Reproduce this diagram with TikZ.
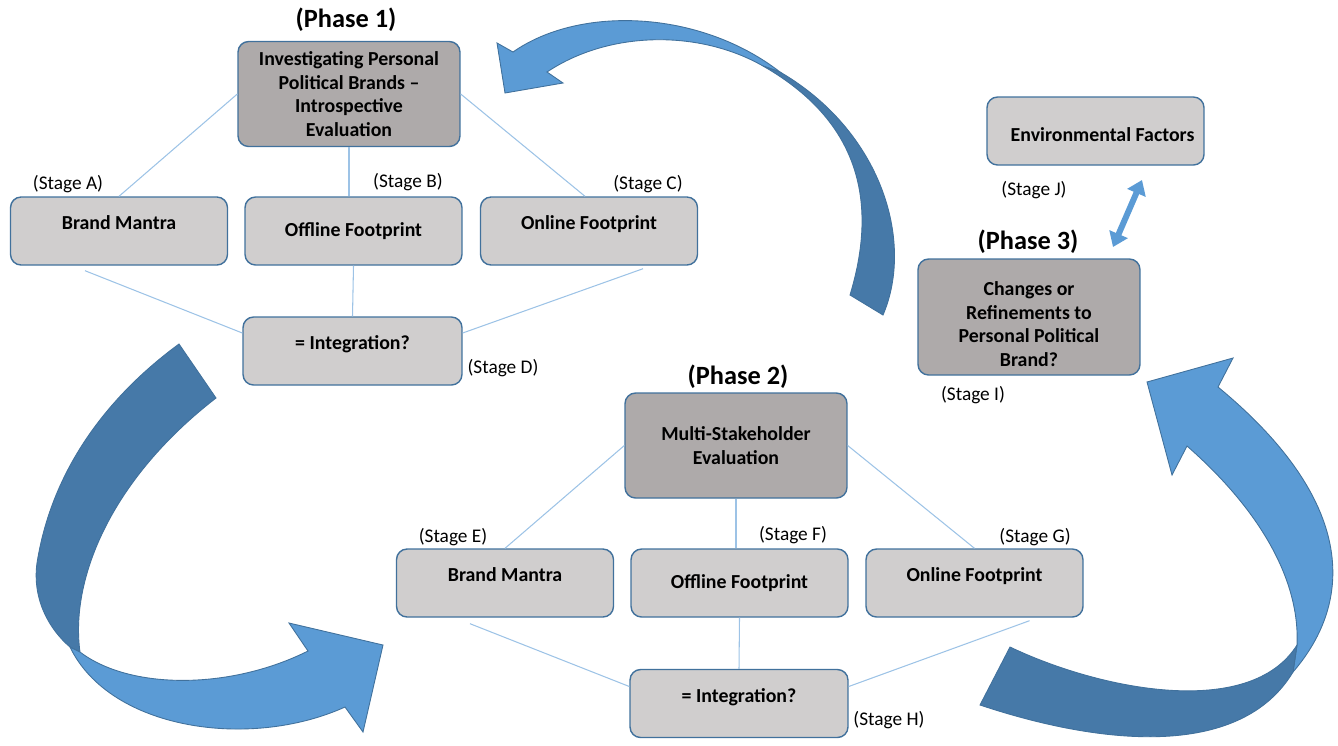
\documentclass[tikz,border=0pt]{standalone}
\usepackage{fontspec}
\setmainfont{Carlito}
\usetikzlibrary{calc,arrows.meta}
\definecolor{boxgray}{RGB}{208,206,206}
\definecolor{phasegray}{RGB}{174,170,170}
\definecolor{boxline}{RGB}{65,113,156}
\definecolor{linkblue}{RGB}{157,195,230}
\definecolor{arrowlight}{RGB}{91,155,213}
\definecolor{arrowdark}{RGB}{70,121,168}
\tikzset{
  stagebox/.style={draw=boxline, line width=0.8pt, fill=boxgray, rounded corners=6pt,
    minimum width=4.34cm, minimum height=1.36cm, align=center, inner sep=2pt,
    font=\fontsize{11.3}{13.4}\selectfont\bfseries},
  phasebox/.style={stagebox, fill=phasegray, minimum width=4.44cm, minimum height=2.1cm},
  linkline/.style={draw=linkblue, line width=0.6pt},
  stagelabel/.style={font=\fontsize{11}{13}\selectfont, inner sep=0pt},
  phaselabel/.style={font=\fontsize{15}{18}\selectfont\bfseries, inner sep=0pt},
  lightpart/.style={fill=arrowlight, draw=boxline, line width=0.5pt},
  darkpart/.style={fill=arrowdark, draw=boxline, line width=0.5pt}
}
\begin{document}
\begin{tikzpicture}[x=0.02cm, y=-0.02cm]
  \useasboundingbox (0,0) rectangle (1338,745);

  % big curved arrows
  \draw[darkpart] (179,344) .. controls (130,380) and (55,450) .. (37,563)
    .. controls (32,600) and (50,630) .. (70,647) -- (80,652)
    .. controls (70,580) and (110,480) .. (216,398) -- cycle;
  \draw[lightpart] (70,647) .. controls (110,730) and (250,750) .. (345,707)
    -- (363,732) -- (383,645) -- (289,623) -- (308,651)
    .. controls (230,690) and (130,690) .. (80,652) -- cycle;

  \draw[lightpart] (780,72) .. controls (700,10) and (580,5) .. (513,52)
    -- (497,43) -- (505,93) -- (563,83) -- (547,72)
    .. controls (610,30) and (700,30) .. (763,66) -- cycle;
  \draw[darkpart] (883,315) .. controls (915,240) and (880,130) .. (780,72) -- (763,66)
    .. controls (840,110) and (885,180) .. (850,295) -- cycle;

  \draw[lightpart] (1293,672) .. controls (1355,600) and (1355,500) .. (1218,387)
    -- (1233,358) -- (1147,382) -- (1172,475) -- (1187,446)
    .. controls (1260,510) and (1300,580) .. (1297,645) -- cycle;
  \draw[darkpart] (1010,647) .. controls (1100,690) and (1250,720) .. (1297,645) -- (1293,672)
    .. controls (1240,760) and (1100,745) .. (980,705) -- cycle;

  % phase 1
  \node[phaselabel] (ph1lab) at (346,20) {(Phase 1)};
  \node[phasebox] (ph1) at (349,94) {Investigating Personal\\Political Brands –\\Introspective\\Evaluation};
  \node[stagebox] (manA) at (119,231) {Brand Mantra\\[-4pt]~};
  \node[stagebox] (offA) at (353.5,231) {Offline Footprint};
  \node[stagebox] (onA) at (589,231) {Online Footprint\\[-4pt]~};
  \node[stagebox, minimum width=4.38cm] (intA) at (352.5,351) {= Integration?\\[-4pt]~};

  \draw[linkline] (ph1.west) -- (manA.north);
  \draw[linkline] (ph1.south) -- (ph1.south |- offA.north);
  \draw[linkline] (ph1.east) -- ($(onA.north)+(-4,0)$);
  \draw[linkline] ($(manA.south)+(-34,5)$) -- ($(intA.west)+(0,-18)$);
  \draw[linkline] (offA.south) -- (intA.north);
  \draw[linkline] ($(intA.east)+(0,-18)$) -- ($(onA.south)+(54,3)$);

  \node[stagelabel] (stA) at (68,184) {(Stage A)};
  \node[stagelabel] (stB) at (408,182) {(Stage B)};
  \node[stagelabel] (stC) at (648,184) {(Stage C)};
  \node[stagelabel] (stD) at (503,368) {(Stage D)};

  % phase 2
  \node[phaselabel] (ph2lab) at (738,377) {(Phase 2)};
  \node[phasebox] (ph2) at (736,445.5) {Multi-Stakeholder\\Evaluation};
  \node[stagebox] (manB) at (505,583) {Brand Mantra\\[-4pt]~};
  \node[stagebox] (offB) at (739.5,583) {Offline Footprint};
  \node[stagebox] (onB) at (974.5,583) {Online Footprint\\[-4pt]~};
  \node[stagebox, minimum width=4.36cm] (intB) at (739,703.5) {= Integration?\\[-4pt]~};

  \draw[linkline] (ph2.west) -- (manB.north);
  \draw[linkline] (ph2.south) -- (ph2.south |- offB.north);
  \draw[linkline] (ph2.east) -- (onB.north);
  \draw[linkline] ($(manB.south)+(-35,6)$) -- ($(intB.west)+(0,-17)$);
  \draw[linkline] (offB.south) -- (intB.north);
  \draw[linkline] ($(intB.east)+(0,-17)$) -- ($(onB.south)+(55,3)$);

  \node[stagelabel] (stE) at (453,537) {(Stage E)};
  \node[stagelabel] (stF) at (793,535) {(Stage F)};
  \node[stagelabel] (stG) at (1035,537) {(Stage G)};
  \node[stagelabel] (stH) at (889,720) {(Stage H)};

  % phase 3
  \node[phaselabel] (ph3lab) at (1028,242) {(Phase 3)};
  \node[phasebox, minimum height=2.32cm] (ph3) at (1029,317) {\rule{0pt}{16pt}Changes or\\Refinements to\\Personal Political\\Brand?};
  \node[stagebox] (env) at (1095.5,131) {\rule{0pt}{12pt}\hspace{8pt}Environmental Factors};
  \node[stagelabel] (stI) at (973,395) {(Stage I)};
  \node[stagelabel] (stJ) at (1034,190) {(Stage J)};

  \coordinate (envtip) at (1142,180);
  \coordinate (ph3tip) at (1113,247);
  \draw[{Triangle[width=11pt,length=8pt]}-{Triangle[width=11pt,length=8pt]}, arrowlight, line width=3.4pt] (ph3tip) -- (envtip);
\end{tikzpicture}
\end{document}
